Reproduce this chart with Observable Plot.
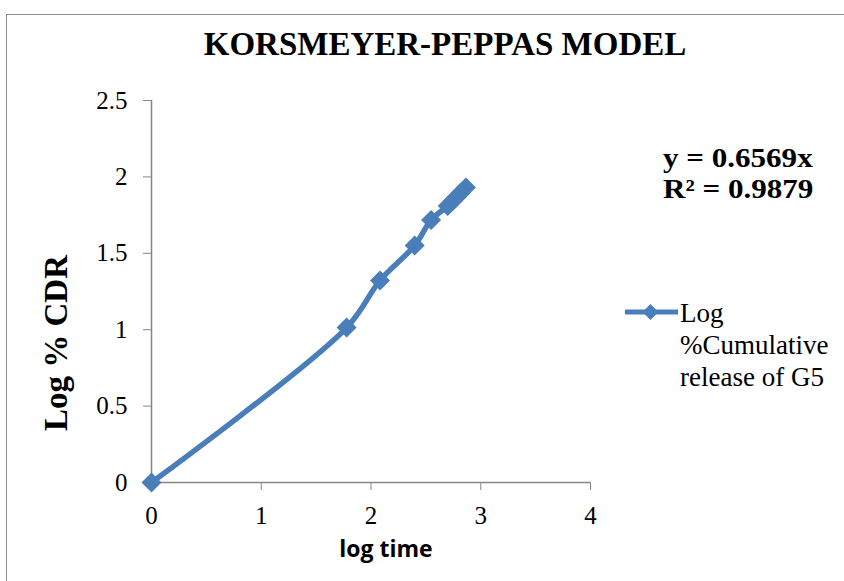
<!DOCTYPE html>
<html>
<head>
<meta charset="utf-8">
<script src="https://cdn.jsdelivr.net/npm/d3@7"></script>
<script src="https://cdn.jsdelivr.net/npm/@observablehq/plot@0.6"></script>
<style>
  html, body { margin: 0; padding: 0; background: #fff; }
  #wrap { position: relative; width: 844px; height: 581px; overflow: hidden; }
  #frame { position: absolute; left: 6px; top: 14px; width: 900px; height: 700px; border: 1.5px solid #8c8c8c; box-sizing: border-box; }
  .t { position: absolute; font-family: "Liberation Serif", "Times New Roman", serif; color: #000; white-space: nowrap; line-height: 1; }
  #title { left: 445px; top: 28px; transform: translateX(-50%); font-size: 33px; font-weight: bold; }
  #ylab { left: 56px; top: 343px; font-size: 33px; font-weight: bold; transform: translate(-50%, -50%) rotate(-90deg); }
  #xlab { left: 386px; top: 537px; transform: translateX(-50%); font-family: "Open Sans", "Liberation Sans", sans-serif; font-size: 23px; font-weight: bold; }
  #eq { left: 663px; top: 143px; font-size: 27px; font-weight: bold; line-height: 31px; transform: scaleX(1.15); transform-origin: 0 0; }
  #leg { left: 625px; top: 296px; }
  #legtext { left: 680px; top: 297px; font-size: 27px; line-height: 32px; }
  svg.plot { position: absolute; left: 0; top: 0; }
</style>
</head>
<body>
<div id="wrap">
  <div id="frame"></div>
  <div id="chart"></div>
  <div class="t" id="title">KORSMEYER-PEPPAS MODEL</div>
  <div class="t" id="ylab">Log % CDR</div>
  <div class="t" id="xlab">log time</div>
  <div class="t" id="eq"></div>
  <div class="t" id="leg"></div>
  <div class="t" id="legtext"></div>
</div>
<script>
const logTime = [0, 1.778, 2.082, 2.398, 2.548, 2.699, 2.745, 2.785, 2.82, 2.865];
const logCDR  = [0, 1.014, 1.322, 1.551, 1.718, 1.810, 1.843, 1.872, 1.898, 1.930];
const xTicks = [0, 1, 2, 3, 4];
const yTicks = [0, 0.5, 1, 1.5, 2, 2.5];
const yTickLabels = ["0", "0.5", "1", "1.5", "2", "2.5"];
const equationLines = ["y = 0.6569x", "R² = 0.9879"];
const legendLines = ["Log", "%Cumulative", "release of G5"];
const seriesColor = "#4a7ebb";
const axisColor = "#868686";

const data = logTime.map((x, i) => ({x, y: logCDR[i]}));

const chart = Plot.plot({
  width: 844,
  height: 581,
  marginLeft: 151,
  marginRight: 254,
  marginTop: 100,
  marginBottom: 99,
  style: {background: "transparent", fontFamily: "Liberation Serif, Times New Roman, serif", fontSize: "25px", color: "#000", overflow: "visible"},
  x: {domain: [0, 4]},
  y: {domain: [0, 2.5]},
  marks: [
    Plot.axisX({ticks: xTicks, tickSize: 8, tickPadding: 16, stroke: axisColor, fill: "#000", fontSize: 25, label: null, tickFormat: d => String(d)}),
    Plot.axisY({ticks: yTicks, tickSize: 8, tickPadding: 16, stroke: axisColor, fill: "#000", fontSize: 25, label: null, tickFormat: d => yTickLabels[yTicks.indexOf(d)]}),
    Plot.ruleX([0], {stroke: axisColor, strokeWidth: 1.5}),
    Plot.ruleY([0], {stroke: axisColor, strokeWidth: 1.5}),
    Plot.line(data, {x: "x", y: "y", stroke: seriesColor, strokeWidth: 5.5, curve: "catmull-rom"}),
    Plot.dot(data, {x: "x", y: "y", symbol: "diamond2", r: 9, fill: seriesColor, stroke: null})
  ]
});
chart.classList.add("plot");
document.getElementById("chart").appendChild(chart);

document.getElementById("eq").innerHTML = equationLines.join("<br>");
document.getElementById("legtext").innerHTML = legendLines.join("<br>");
document.getElementById("leg").innerHTML =
  `<svg width="54" height="32"><line x1="0" y1="16" x2="53" y2="16" stroke="${seriesColor}" stroke-width="5"/>` +
  `<path d="M25.5,8 L33.5,16 L25.5,24 L17.5,16 Z" fill="${seriesColor}"/></svg>`;
</script>
</body>
</html>
